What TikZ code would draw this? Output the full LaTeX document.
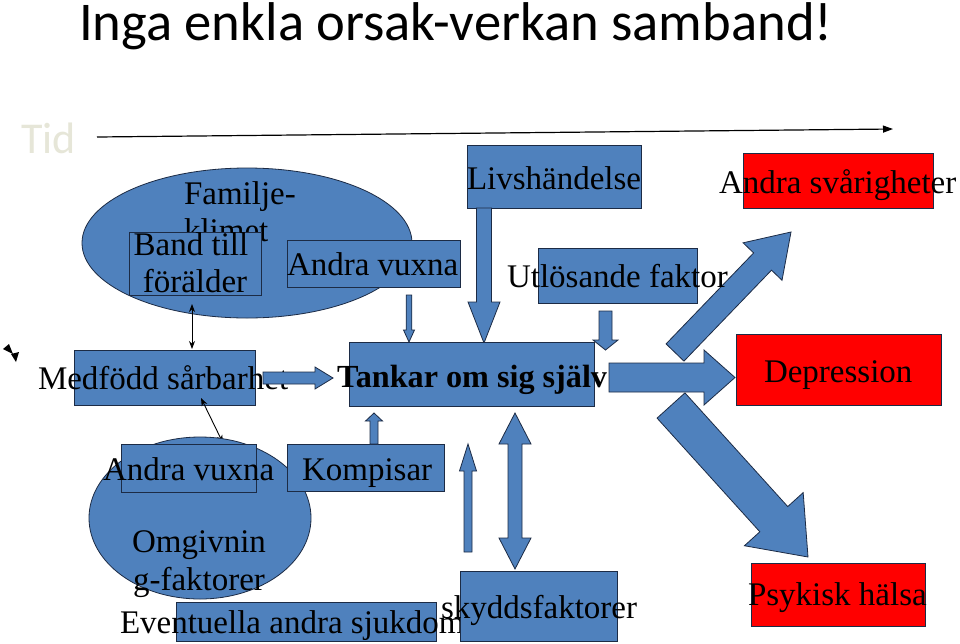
\documentclass[tikz,border=0pt]{standalone}
\usepackage{fontspec}
\setmainfont{Liberation Serif}
\newfontfamily\calibri{Carlito}
\usetikzlibrary{calc,arrows.meta,shapes.geometric}
\definecolor{ofblue}{HTML}{4F81BD}
\definecolor{ofline}{HTML}{1C2B45}
\definecolor{ofred}{HTML}{FF0000}
\definecolor{tidcol}{HTML}{E6E6D8}
\tikzset{
  bluebox/.style={draw=ofline, fill=ofblue, line width=0.8pt, rectangle, inner sep=0pt, outer sep=0pt, anchor=north west},
  redbox/.style={draw=ofline, fill=ofred, line width=0.8pt, rectangle, inner sep=0pt, outer sep=0pt, anchor=north west},
  blueell/.style={draw=ofline, fill=ofblue, line width=0.8pt, ellipse, inner sep=0pt, outer sep=0pt},
  blockarrow/.style={draw=ofline, fill=ofblue, line width=0.8pt, line join=miter},
  lbl/.style={inner sep=0pt, outer sep=0pt, anchor=base west, font=\fontsize{33}{36}\selectfont},
  clbl/.style={inner sep=0pt, outer sep=0pt, anchor=base, font=\fontsize{33}{36}\selectfont},
  thinarr/.style={line width=0.9pt, {Stealth[length=8pt,width=6pt]}-{Stealth[length=8pt,width=6pt]}},
  timeline/.style={line width=1.2pt, -{Triangle[length=10pt,width=7pt]}}
}
\newcommand\blockarr[6]{%
  \coordinate (#1-hb) at ($(#3)!#6pt!(#2)$);
  \path[blockarrow] ($(#2)!#4pt!90:(#3)$) -- ($(#1-hb)!#4pt!90:(#3)$) -- ($(#1-hb)!#5pt!90:(#3)$) -- (#3) -- ($(#1-hb)!#5pt!-90:(#3)$) -- ($(#1-hb)!#4pt!-90:(#3)$) -- ($(#2)!#4pt!-90:(#3)$) -- cycle;}
\newcommand\dblarr[6]{%
  \coordinate (#1-ha) at ($(#2)!#6pt!(#3)$);
  \coordinate (#1-hb) at ($(#3)!#6pt!(#2)$);
  \path[blockarrow] (#2) -- ($(#1-ha)!#5pt!90:(#3)$) -- ($(#1-ha)!#4pt!90:(#3)$) -- ($(#1-hb)!#4pt!90:(#3)$) -- ($(#1-hb)!#5pt!90:(#3)$) -- (#3) -- ($(#1-hb)!#5pt!-90:(#3)$) -- ($(#1-hb)!#4pt!-90:(#3)$) -- ($(#1-ha)!#4pt!-90:(#3)$) -- ($(#1-ha)!#5pt!-90:(#3)$) -- cycle;}
\begin{document}
\begin{tikzpicture}[x=1pt,y=-1pt]
\useasboundingbox (0,0) rectangle (960,643);
\fill[white] (0,0) rectangle (960,643);

% title and time axis
\node[inner sep=0pt, anchor=base west, font=\calibri\fontsize{54.6}{60}\selectfont] (title) at (79,40) {Inga enkla orsak-verkan samband!};
\node[inner sep=0pt, anchor=base west, text=tidcol, font=\calibri\fontsize{44}{48}\selectfont] (tid) at (21,153) {Tid};
\coordinate (t0) at (97,137);
\coordinate (t1) at (893,129);
\draw[timeline] (t0) -- (t1);

% cursor artefact
\fill[black] (3,349) -- (9,344) -- (13,354) -- cycle;
\fill[black] (11,354) -- (19,352) -- (16,362) -- cycle;

% upper ellipse: family climate
\node[blueell, minimum width=330pt, minimum height=150pt] (fam) at (247,243) {};
\node[lbl] (famt1) at (184,204) {Familje-};
\node[lbl] (famt2) at (184,241) {klimet};
\node[bluebox, minimum width=132pt, minimum height=63pt] (band) at (129,232) {};
\node[clbl] (bandt1) at (191,255) {Band till};
\node[clbl] (bandt2) at (195,292) {förälder};
\node[bluebox, minimum width=173pt, minimum height=47pt] (andra1) at (287,240) {};
\node[lbl] (andra1t) at (287,275) {Andra vuxna};

% Livshändelse
\node[bluebox, minimum width=174pt, minimum height=63pt] (liv) at (467,145) {};
\node[lbl] (livt) at (467,189) {Livshändelse};

% Andra svårigheter
\node[redbox, minimum width=190pt, minimum height=55pt] (andrasv) at (743,153) {};
\node[lbl] (andrasvt) at (719,193) {Andra svårigheter};

% Utlösande faktor box
\node[bluebox, minimum width=159pt, minimum height=55pt] (utl) at (538,248) {};

% up-right big arrow to Andra svårigheter
\coordinate (ur0) at (675,352.5);
\coordinate (ur1) at (791,232);
\blockarr{ur}{ur0}{ur1}{12.4}{27}{41}
\node[lbl] (utlt) at (507,287) {Utlösande faktor};

% arrows down into Tankar
\coordinate (lv0) at (484,208);
\coordinate (lv1) at (484,343);
\blockarr{lv}{lv0}{lv1}{7.5}{16}{41}
\coordinate (ut0) at (605.5,311);
\coordinate (ut1) at (605.5,350);
\blockarr{ut}{ut0}{ut1}{6.5}{12.5}{10}
\coordinate (av0) at (409,295);
\coordinate (av1) at (409,342);
\blockarr{av}{av0}{av1}{2.8}{5.5}{12}

% Medfödd sårbarhet
\node[bluebox, minimum width=181pt, minimum height=55pt] (medf) at (74,350) {};
\node[lbl] (medft) at (38,389) {Medfödd sårbarhet};
\coordinate (md0) at (263,378);
\coordinate (md1) at (333,378);
\blockarr{md}{md0}{md1}{6}{11}{18}

% Tankar om sig själv
\node[bluebox, minimum width=245pt, minimum height=64pt] (tankar) at (349,342) {};
\node[inner sep=0pt, anchor=base west, font=\bfseries\fontsize{32.2}{36}\selectfont] (tankart) at (337,387) {Tankar om sig själv};

% Depression
\coordinate (dp0) at (609,377.5);
\coordinate (dp1) at (735,377.5);
\blockarr{dp}{dp0}{dp1}{14.5}{27.5}{31}
\node[redbox, minimum width=205pt, minimum height=71pt] (depr) at (736,334) {};
\node[lbl] (deprt) at (764,382) {Depression};

% down-right big arrow to Psykisk hälsa
\coordinate (dr0) at (671,405.5);
\coordinate (dr1) at (808,557);
\blockarr{dr}{dr0}{dr1}{18.8}{39.6}{51}
\node[redbox, minimum width=174pt, minimum height=63pt] (psyk) at (751,563) {};
\node[lbl] (psykt) at (748,605) {Psykisk hälsa};

% thin connectors
\coordinate (ba1) at (192,304);
\coordinate (ba2) at (192,349);
\draw[thinarr] (ba1) -- (ba2);
\coordinate (mo1) at (201,398);
\coordinate (mo2) at (223,443);
\draw[thinarr] (mo1) -- (mo2);

% lower ellipse: surroundings
\node[blueell, minimum width=222pt, minimum height=162pt] (omg) at (200,518) {};
\node[bluebox, minimum width=135pt, minimum height=48pt] (andra2) at (121,444) {};
\node[lbl] (andra2t) at (103,480) {Andra vuxna};
\node[bluebox, minimum width=157pt, minimum height=47pt] (komp) at (287,444) {};
\node[lbl] (kompt) at (302,480) {Kompisar};
\node[clbl] (omgt1) at (199,552) {Omgivnin};
\node[clbl] (omgt2) at (199,590) {g-faktorer};
\coordinate (kp0) at (374,444);
\coordinate (kp1) at (374,413);
\blockarr{kp}{kp0}{kp1}{4}{8.5}{8}

% Eventuella andra sjukdom
\node[bluebox, minimum width=260pt, minimum height=39pt] (event) at (176,602) {};
\node[lbl] (eventt) at (120,633) {Eventuella andra sjukdom};

% skyddsfaktorer
\coordinate (sk0) at (468,552);
\coordinate (sk1) at (468,444);
\blockarr{sk}{sk0}{sk1}{4}{8.5}{27}
\coordinate (db0) at (515,569);
\coordinate (db1) at (515,413);
\dblarr{db}{db0}{db1}{7}{16}{31}
\node[bluebox, minimum width=157pt, minimum height=70pt] (skydd) at (460,571) {};
\node[lbl] (skyddt) at (441,618) {skyddsfaktorer};
\end{tikzpicture}
\end{document}
